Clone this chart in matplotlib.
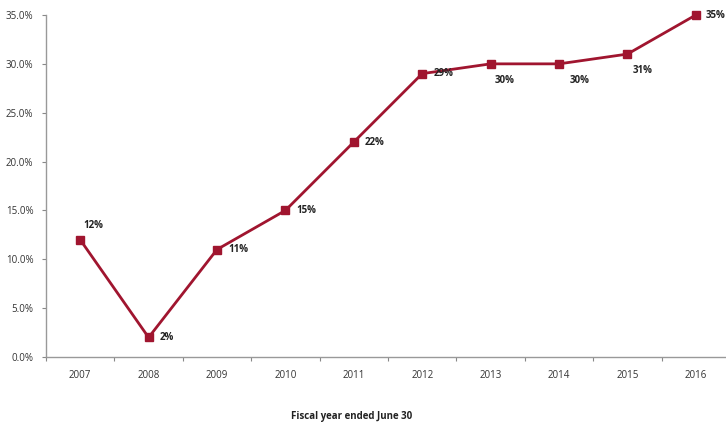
import matplotlib
matplotlib.use("Agg")
import matplotlib.pyplot as plt
from matplotlib.ticker import FuncFormatter

years = ["2007", "2008", "2009", "2010", "2011", "2012", "2013", "2014", "2015", "2016"]
values = [12, 2, 11, 15, 22, 29, 30, 30, 31, 35]
labels = ["12%", "2%", "11%", "15%", "22%", "29%", "30%", "30%", "31%", "35%"]
# label placement offsets (points)
offsets = [(2, 10), (8, 0), (8, 0), (8, 0), (8, 0), (8, 0), (3, -12), (8, -12), (4, -12), (7, 0)]

plt.rcParams['font.family'] = ['Open Sans', 'DejaVu Sans']

fig = plt.figure(figsize=(7.26, 4.23), dpi=100)
ax = fig.add_axes([46/726, 1-357/423, 684/726, (357-15)/423])

color = "#A0152F"
x = list(range(len(years)))
ax.plot(x, values, color=color, lw=2, marker="s", markersize=6, zorder=3, clip_on=False)
for xi, v, lab, off in zip(x, values, labels, offsets):
    ax.annotate(lab, (xi, v), xytext=off, textcoords="offset points",
                ha="left", va="center", fontsize=7, fontweight="bold", color="#222222")

ax.set_xlim(-0.5, 9.5)
ax.set_ylim(0, 35)
ax.set_yticks([0, 5, 10, 15, 20, 25, 30, 35])
ax.yaxis.set_major_formatter(FuncFormatter(lambda v, p: f"{v:.1f}%"))
ax.set_xticks([i - 0.5 for i in range(11)])
ax.set_xticklabels([])
ax.set_xticks(x, minor=True)
ax.set_xticklabels(years, minor=True)
ax.tick_params(axis="x", which="minor", length=0, pad=9, labelsize=7, colors="#333333")
ax.tick_params(axis="x", which="major", length=3, color="#888888")
ax.tick_params(axis="y", length=3, color="#888888", labelsize=7, labelcolor="#333333", pad=6)

for s in ["top", "right"]:
    ax.spines[s].set_visible(False)
for s in ["left", "bottom"]:
    ax.spines[s].set_color("#999999")
    ax.spines[s].set_linewidth(1)

fig.text(352/726, 1-416/423, "Fiscal year ended June 30", ha="center", va="center",
         fontsize=7, fontweight="bold", color="#222222")

fig.savefig("out.png", dpi=100)
